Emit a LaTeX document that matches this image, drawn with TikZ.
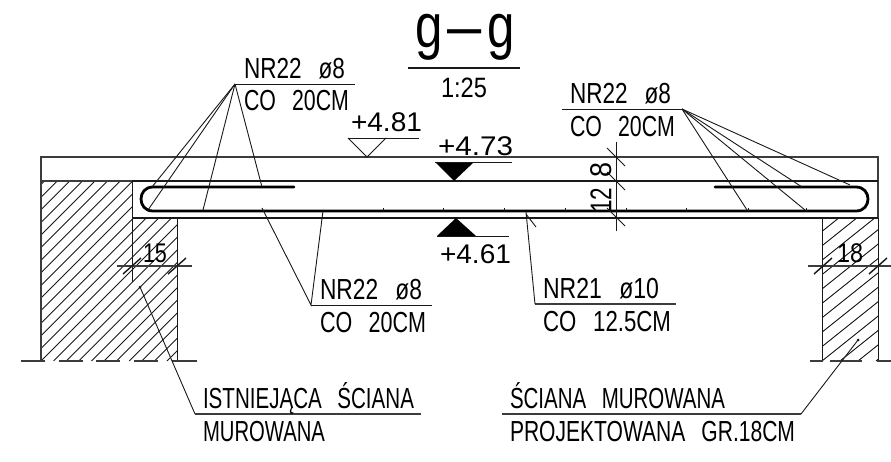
\documentclass[tikz,border=0pt]{standalone}
\usepackage{fontspec}
\usepackage{graphicx}
\setmainfont{Liberation Sans}
\definecolor{ink}{gray}{0.1}
\tikzset{
  thinln/.style={draw=ink,line width=0.9pt},
  midln/.style={draw=ink!85,line width=1.3pt},
  heavy/.style={draw=ink,line width=1.9pt},
  rebar/.style={draw=black,line width=2.8pt},
  hatchln/.style={draw=ink,line width=0.9pt},
  txt/.style={anchor=base west,inner sep=0pt,outer sep=0pt,text=black}
}
% name, x, baseline y, width, font size, text
\newcommand{\CadT}[6]{\node[txt] (#1) at (#2,#3) {\resizebox{#4pt}{\height}{\fontsize{#5pt}{#5pt}\selectfont #6}};}
\newcommand{\Gp}{\hspace{22pt}}
\begin{document}
\begin{tikzpicture}[x=1pt,y=-1pt]
\useasboundingbox (0,0) rectangle (891,461);
\fill[white] (0,0) rectangle (891,461);

% hatching
\begin{scope}
\clip (41,181) -- (132,181) -- (132,218) -- (177,218) -- (177,361) -- (41,361) -- cycle;
\foreach \i in {-15,...,11} {\draw[hatchln] ({41+\i*12.6},361) -- ++(200,-200);}
\end{scope}
\begin{scope}
\clip (822,218) rectangle (878,361);
\foreach \i in {-13,...,4} {\draw[hatchln] ({822+\i*18},361) -- ++(200,-160);}
\end{scope}

% outlines
\draw[midln] (41,361) -- (41,157) -- (878,157) -- (878,218);
\draw[midln] (41,181) -- (132,181);
\draw[heavy] (132,181) -- (878,181);
\draw[heavy] (132,218) -- (878,218);
\draw[thinln] (132,181) -- (132,282);
\draw[thinln] (177,218) -- (177,361);
\draw[thinln] (822,218) -- (822,361);
\draw[thinln] (878,218) -- (878,361);

% ground
\foreach \a/\b in {21/45,59/83,96/120,134/158,172/197,810/823,830/862,877/891}
  {\draw[midln] (\a,361) -- (\b,361);}

% rebars
\draw[rebar,line cap=round] (294,187) -- (153,187) .. controls (137,187) and (137,211) .. (153,211)
   -- (856,211) .. controls (872,211) and (872,187) .. (856,187) -- (715,187);
\foreach \x in {383,443,504,565,626,686,748,806}
  {\draw[thinln] (\x,208) -- (\x,211);}

% top-left callout
\coordinate (apexA) at (235,84);
\draw[thinln] (apexA) -- (355,84);
\foreach \px/\py in {152/187,148/210,203/210,262/187}
  {\draw[thinln] (apexA) -- (\px,\py);}
% top-right callout
\coordinate (apexB) at (682,109);
\draw[thinln] (apexB) -- (562,109);
\foreach \px/\py in {747/210,805/210,802/187,850/185}
  {\draw[thinln] (apexB) -- (\px,\py);}
% bottom callouts
\coordinate (apexC) at (311,305);
\draw[thinln] (apexC) -- (432,305);
\draw[thinln] (262,208) -- (apexC) -- (323,211);
\coordinate (apexD) at (535,304);
\draw[midln] (apexD) -- (676,304);
\draw[thinln] (526,212) -- (apexD);
\draw[thinln] (526,214) -- (536,227);
% wall callouts
\coordinate (dotL) at (140,287);
\coordinate (kneeL) at (195,414);
\fill[ink] (dotL) circle (1.5);
\draw[thinln] (dotL) -- (kneeL);
\draw[midln] (kneeL) -- (421,414);
\coordinate (dotR) at (858,340);
\coordinate (kneeR) at (801,414);
\fill[ink] (dotR) circle (1.5);
\draw[thinln] (dotR) -- (kneeR);
\draw[midln] (kneeR) -- (502,414);

% dimension 12 / 8
\draw[thinln] (616,142) -- (616,231);
\foreach \y in {157,181,217}
  {\draw[thinln] (607,\y-9) -- (625,\y+9);}
\node[txt,anchor=center,rotate=90] (dimE) at (601,170) {\resizebox{15pt}{\height}{\fontsize{30pt}{30pt}\selectfont 8}};
\node[txt,anchor=center,rotate=90] (dimT) at (601,200) {\resizebox{25pt}{\height}{\fontsize{30pt}{30pt}\selectfont 12}};

% dimension 15
\draw[midln] (117,266) -- (192,266);
\foreach \x in {132,177}
  {\draw[line width=1.4pt,draw=ink] (\x-9,274) -- (\x+9,258);}
\CadT{dimF}{143}{262}{24}{27}{15}
% dimension 18
\draw[midln] (808,266) -- (891,266);
\foreach \x in {823,878}
  {\draw[line width=1.4pt,draw=ink] (\x-9,274) -- (\x+9,258);}
\CadT{dimG}{837}{262}{26}{27}{18}

% levels
\coordinate (lvA) at (348,138);
\draw[thinln] (lvA) -- (367,157) -- (386,138);
\draw[thinln] (lvA) -- (419,138);
\CadT{tA}{351}{131}{71}{27}{+4.81}
\coordinate (lvB) at (435,162);
\fill[black] (lvB) -- (474,162) -- (454,181) -- cycle;
\draw[thinln] (lvB) -- (512,162);
\CadT{tB}{438}{155}{75}{27}{+4.73}
\coordinate (lvC) at (437,236);
\fill[black] (lvC) -- (476,236) -- (456,218) -- cycle;
\draw[thinln] (lvC) -- (509,236);
\CadT{tC}{440}{263}{71}{27}{+4.61}

% title
\node[txt] (title) at (415,47) {\resizebox{100pt}{\height}{\fontsize{62pt}{62pt}\selectfont g\hspace{7pt}\scalebox{1.25}[1]{–}\hspace{7pt}g}};
\draw[draw=ink,line width=2.6pt] (408,68) -- (520,68);
\CadT{scale}{441}{97}{46}{28}{1:25}

% labels
\CadT{la}{244}{78}{101}{29}{NR22\Gp ø8}
\CadT{lb}{244}{110}{105}{29}{CO\Gp 20CM}
\CadT{lc}{570}{103}{101}{29}{NR22\Gp ø8}
\CadT{ld}{570}{136}{105}{29}{CO\Gp 20CM}
\CadT{le}{320}{299}{102}{29}{NR22\Gp ø8}
\CadT{lf}{320}{332}{106}{29}{CO\Gp 20CM}
\CadT{lg}{543}{298}{116}{29}{NR21\Gp ø10}
\CadT{lh}{543}{331}{128}{29}{CO\Gp 12.5CM}
\CadT{li}{203}{408}{211}{29}{ISTNIEJĄCA\Gp ŚCIANA}
\CadT{lj}{203}{441}{122}{29}{MUROWANA}
\CadT{lk}{510}{408}{215}{29}{ŚCIANA\Gp MUROWANA}
\CadT{ll}{510}{441}{285}{29}{PROJEKTOWANA\Gp GR.18CM}
\end{tikzpicture}
\end{document}
